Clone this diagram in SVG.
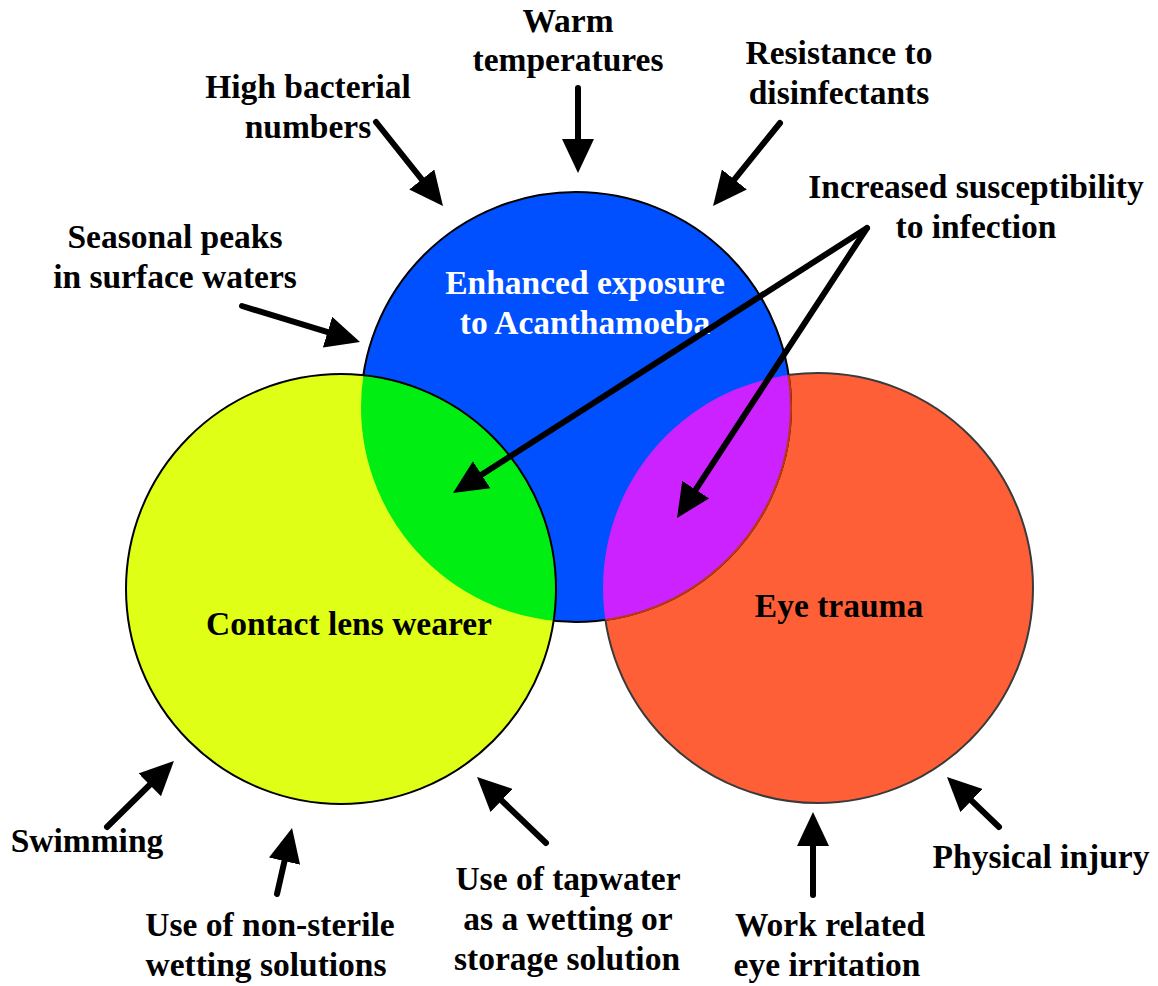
<svg xmlns="http://www.w3.org/2000/svg" width="1158" height="986" viewBox="0 0 1158 986">
<style>
text{font-family:"Liberation Serif","Times New Roman",serif;font-weight:bold;font-size:33.5px;fill:#000;text-anchor:middle}
text.w{fill:#fff}
.arr{fill:none;stroke:#000;stroke-width:6;stroke-linecap:round;marker-end:url(#ah)}
</style>
<defs>
<marker id="ah" markerUnits="userSpaceOnUse" markerWidth="34" markerHeight="32" viewBox="0 0 34 32" refX="14" refY="16" orient="auto">
<path d="M0,0 L34,16 L0,32 Z" fill="#000"/>
</marker>
<clipPath id="inYellow"><circle cx="341" cy="589" r="215"/></clipPath>
<clipPath id="inOrange"><circle cx="818" cy="588" r="215"/></clipPath>
<clipPath id="outBlue"><path clip-rule="evenodd" d="M0,0H1158V986H0Z M361,407 a215,215 0 1,0 430,0 a215,215 0 1,0 -430,0Z"/></clipPath>
</defs>
<rect width="1158" height="986" fill="#fff"/>

<g id="eye-trauma">
<circle cx="818" cy="588" r="215" fill="#FF5F37"/>
</g>
<g id="enhanced-exposure">
<circle cx="576" cy="407" r="215" fill="#0050FF" stroke="#000" stroke-width="2"/>
</g>
<g id="contact-lens-wearer">
<circle cx="341" cy="589" r="215" fill="#E0FF16"/>
<circle cx="576" cy="407" r="215" fill="#00EE11" clip-path="url(#inYellow)"/>
<circle cx="341" cy="589" r="215" fill="none" stroke="#000" stroke-width="2"/>
<text x="349" y="635">Contact lens wearer</text>
</g>
<g id="overlap-trauma">
<circle cx="576" cy="407" r="215" fill="#CC22FF" clip-path="url(#inOrange)"/>
<circle cx="576" cy="407" r="215" fill="none" stroke="#B8361A" stroke-width="2.2" clip-path="url(#inOrange)"/>
<circle cx="818" cy="588" r="215" fill="none" stroke="#3a3a3a" stroke-width="2" clip-path="url(#outBlue)"/>
<text x="839" y="617">Eye trauma</text>
</g>
<g id="enhanced-label">
<text class="w" x="585" y="294">Enhanced exposure</text>
<text class="w" x="585" y="334">to Acanthamoeba</text>
</g>

<g id="connectors">
<path class="arr" d="M376,122 L430.5,190.4"/>
<path class="arr" d="M578,88 L578,153"/>
<path class="arr" d="M780,123 L725.6,190.4"/>
<path class="arr" d="M242,306 L340.9,336.2"/>
<path class="arr" d="M867,228 L469.8,482.2"/>
<path class="arr" d="M867,228 L688,501.3"/>
<path class="arr" d="M107,827 L159.7,775"/>
<path class="arr" d="M277,894 L287.6,847.5"/>
<path class="arr" d="M546,843 L491.5,790.8"/>
<path class="arr" d="M813,895 L813,832"/>
<path class="arr" d="M999,827 L961.4,790.9"/>
</g>

<g id="warm-temperatures">
<text x="568" y="32">Warm</text>
<text x="568" y="71">temperatures</text>
</g>
<g id="high-bacterial-numbers">
<text x="308" y="98">High bacterial</text>
<text x="308" y="138">numbers</text>
</g>
<g id="resistance-to-disinfectants">
<text x="839" y="64">Resistance to</text>
<text x="839" y="104">disinfectants</text>
</g>
<g id="increased-susceptibility">
<text x="976" y="198">Increased susceptibility</text>
<text x="976" y="238">to infection</text>
</g>
<g id="seasonal-peaks">
<text x="175" y="248">Seasonal peaks</text>
<text x="175" y="288">in surface waters</text>
</g>
<g id="swimming">
<text x="87" y="852">Swimming</text>
</g>
<g id="non-sterile">
<text x="270" y="936">Use of non-sterile</text>
<text x="266" y="976">wetting solutions</text>
</g>
<g id="tapwater">
<text x="568" y="890">Use of tapwater</text>
<text x="568" y="930">as a wetting or</text>
<text x="567" y="970">storage solution</text>
</g>
<g id="work-related">
<text x="830" y="936">Work related</text>
<text x="827" y="976">eye irritation</text>
</g>
<g id="physical-injury">
<text x="1041" y="868">Physical injury</text>
</g>
</svg>
